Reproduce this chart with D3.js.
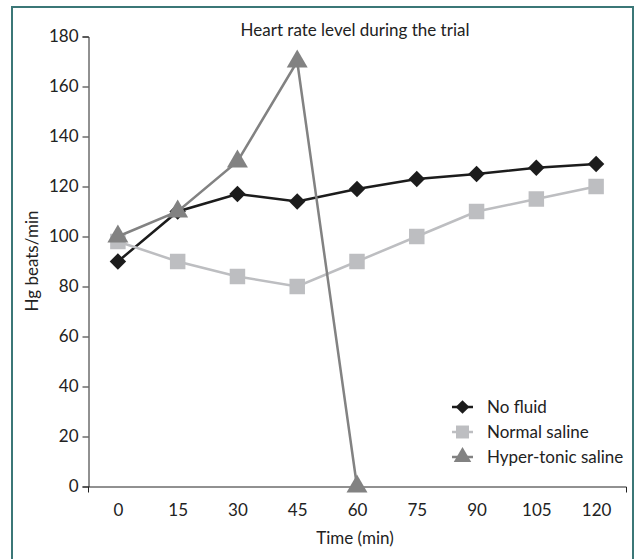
<!DOCTYPE html>
<html><head><meta charset="utf-8">
<script src="https://cdn.jsdelivr.net/npm/d3@7"></script>
<style>
html,body{margin:0;padding:0;background:#fff;}
svg{display:block;font-family:Lato,"Open Sans",sans-serif;}
</style></head>
<body>
<svg id="chart" width="640" height="559"></svg>
<script>
const categories = ["0","15","30","45","60","75","90","105","120"];
const noFluid = [90,110,117,114,119,123,125,127.5,129];
const normalSaline = [98,90,84,80,90,100,110,115,120];
const hyperTonic = [100,110,130,170,0];
const yTicks = [0,20,40,60,80,100,120,140,160,180];
const seriesNames = ["No fluid","Normal saline","Hyper-tonic saline"];

const svg = d3.select("#chart");
const FS = 17;
// frame
svg.append("rect").attr("x",12).attr("y",7).attr("width",621).attr("height",580)
  .attr("fill","none").attr("stroke","#3b7777").attr("stroke-width",2);

const x = d3.scalePoint().domain(categories).range([88,626]).padding(0.5);
const y = d3.scaleLinear().domain([0,180]).range([486.5,36.5]);

const yAxis = svg.append("g").attr("transform","translate(88.5,0)")
  .call(d3.axisLeft(y).tickValues(yTicks).tickSizeInner(6).tickSizeOuter(6).tickPadding(4));
const xAxis = svg.append("g").attr("transform","translate(0,486.5)")
  .call(d3.axisBottom(x).tickSizeInner(0).tickSizeOuter(6).tickPadding(17));
[yAxis,xAxis].forEach(a=>{
  a.selectAll("path,line").attr("stroke","#222").attr("stroke-width",1);
  a.selectAll("text").attr("font-family","Lato").attr("font-size",FS).attr("fill","#222");
});

svg.append("text").attr("x",355).attr("y",36).attr("text-anchor","middle")
  .attr("font-size",FS).attr("fill","#222").text("Heart rate level during the trial");
svg.append("text").attr("x",355).attr("y",544).attr("text-anchor","middle")
  .attr("font-size",FS).attr("fill","#222").text("Time (min)");
svg.append("text").attr("transform","translate(38,261) rotate(-90)").attr("text-anchor","middle")
  .attr("font-size",FS).attr("fill","#222").text("Hg beats/min");

const styles = [
  {data:noFluid, color:"#1c1c1c", sym:d3.symbolSquare, size:135, rot:45},
  {data:normalSaline, color:"#bdbec1", sym:d3.symbolSquare, size:240, rot:0},
  {data:hyperTonic, color:"#828282", sym:d3.symbolTriangle, size:190, rot:0}
];
const line = d3.line().x((d,i)=>x(categories[i])).y(d=>y(d));
styles.forEach(s=>{
  const g = svg.append("g");
  g.append("path").datum(s.data).attr("d",line).attr("fill","none")
    .attr("stroke",s.color).attr("stroke-width",2.5);
  g.selectAll("path.m").data(s.data).enter().append("path").attr("class","m")
    .attr("d",d3.symbol().type(s.sym).size(s.size))
    .attr("transform",(d,i)=>`translate(${x(categories[i])},${y(d)}) rotate(${s.rot})`)
    .attr("fill",s.color);
});

// legend
const lg = svg.append("g");
styles.forEach((s,i)=>{
  const yy = 407 + i*25;
  lg.append("line").attr("x1",452).attr("x2",473).attr("y1",yy).attr("y2",yy)
    .attr("stroke",s.color).attr("stroke-width",2.5);
  lg.append("path").attr("d",d3.symbol().type(s.sym).size(s.size*0.7))
    .attr("transform",`translate(462.5,${yy}) rotate(${s.rot})`).attr("fill",s.color);
  lg.append("text").attr("x",487).attr("y",yy+6).attr("font-size",FS).attr("fill","#222")
    .text(seriesNames[i]);
});
</script>
</body></html>
